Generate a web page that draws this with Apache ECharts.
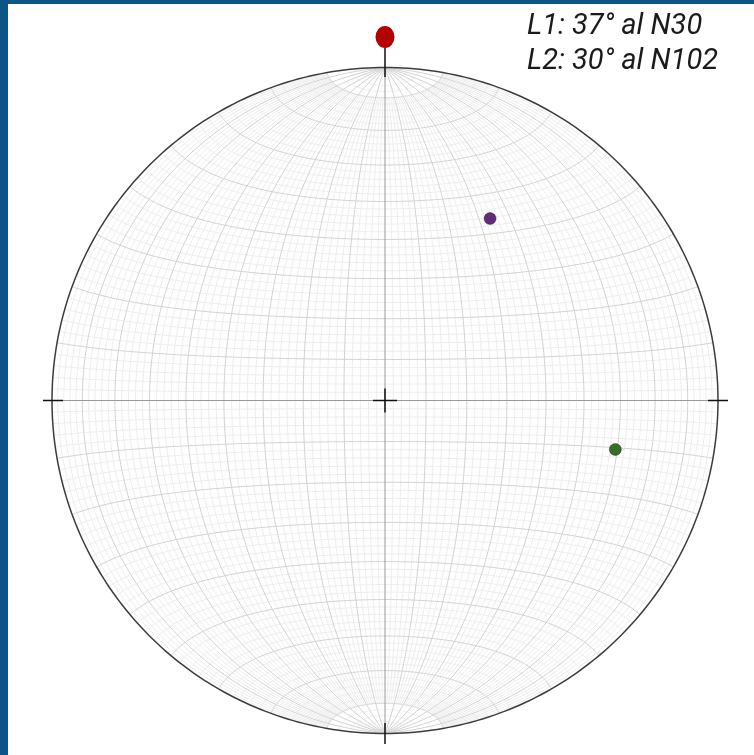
<!DOCTYPE html>
<html>
<head>
<meta charset="utf-8">
<script src="https://cdn.jsdelivr.net/npm/echarts@6/dist/echarts.min.js"></script>
<style>
  html, body { margin: 0; padding: 0; background: #ffffff; }
  #frame { position: absolute; left: 0; top: 0; width: 754px; height: 755px; background: #0c5584; }
  #chart { position: absolute; left: 8px; top: 4px; width: 746px; height: 751px; background: #ffffff; }
</style>
</head>
<body>
<div id="frame"></div>
<div id="chart"></div>
<script>
// Lineations (plunge / trend, degrees), lower-hemisphere equal-area net
var lineNames = ['L1', 'L2'];
var plunges = [37, 30];
var trends = [30, 102];
var lineColors = ['#652a78', '#356f25'];
var legendTexts = ['L1: 37° al N30', 'L2: 30° al N102'];

// Net layout (pixels inside the chart box)
var W = 746, H = 751;
var CX = 377, CY = 396.5, R = 333;

var chart = echarts.init(document.getElementById('chart'), null, { renderer: 'canvas' });

// Equal-area (Schmidt) projection of a net point given longitude/latitude
function netPoint(lonDeg, latDeg) {
  var lon = lonDeg * Math.PI / 180, lat = latDeg * Math.PI / 180;
  var x = Math.cos(lat) * Math.sin(lon);
  var y = Math.sin(lat);
  var z = Math.cos(lat) * Math.cos(lon);
  var k = 1 / Math.sqrt(1 + z);
  return [x * k, y * k];
}

// Lineation plunge/trend to net coordinates
function lineationPoint(plunge, trend) {
  var r = Math.SQRT2 * Math.sin((90 - plunge) / 2 * Math.PI / 180);
  var t = trend * Math.PI / 180;
  return [r * Math.sin(t), r * Math.cos(t)];
}

var minorNet = [], majorNet = [];
var step = 2, a, b;
// great circles (meridians)
for (a = -88; a <= 88; a += step) {
  if (a === 0) continue;
  var major = (a % 10 === 0);
  var lim = major ? 90 : 80;
  var pts = [];
  for (b = -lim; b <= lim; b += 1) pts.push(netPoint(a, b));
  (major ? majorNet : minorNet).push({ coords: pts });
}
// small circles
for (a = -88; a <= 88; a += step) {
  if (a === 0) continue;
  var majorS = (a % 10 === 0);
  var pts2 = [];
  for (b = -90; b <= 90; b += 1) pts2.push(netPoint(b, a));
  (majorS ? majorNet : minorNet).push({ coords: pts2 });
}
var primitive = [];
for (b = 0; b <= 360; b += 1) {
  primitive.push([Math.sin(b * Math.PI / 180), Math.cos(b * Math.PI / 180)]);
}

function px2u(px) { return (px - CX) / R; }
function py2u(py) { return (CY - py) / R; }

var ticks = [
  { coords: [[0, py2u(44)], [0, py2u(73)]] },
  { coords: [[0, py2u(719)], [0, py2u(740)]] },
  { coords: [[px2u(35), 0], [px2u(55), 0]] },
  { coords: [[px2u(700), 0], [px2u(720), 0]] },
  { coords: [[px2u(CX - 12), 0], [px2u(CX + 12), 0]] },
  { coords: [[0, py2u(CY - 12)], [0, py2u(CY + 12)]] }
];
var axesLines = [
  { coords: [[-1, 0], [1, 0]] },
  { coords: [[0, -1], [0, 1]] }
];

var scatterData = lineNames.map(function (n, i) {
  return { name: n, value: lineationPoint(plunges[i], trends[i]), itemStyle: { color: lineColors[i] } };
});

var option = {
  animation: false,
  grid: { left: 0, top: 0, width: W, height: H },
  xAxis: { type: 'value', min: px2u(0), max: px2u(W), show: false },
  yAxis: { type: 'value', min: py2u(H), max: py2u(0), show: false },
  series: [
    { type: 'lines', coordinateSystem: 'cartesian2d', polyline: true, silent: true,
      lineStyle: { color: '#ededed', width: 1, opacity: 1 }, data: minorNet, z: 1 },
    { type: 'lines', coordinateSystem: 'cartesian2d', polyline: true, silent: true,
      lineStyle: { color: '#d2d2d2', width: 1, opacity: 1 }, data: majorNet, z: 2 },
    { type: 'lines', coordinateSystem: 'cartesian2d', polyline: true, silent: true,
      lineStyle: { color: '#9a9a9a', width: 1, opacity: 1 }, data: axesLines, z: 3 },
    { type: 'lines', coordinateSystem: 'cartesian2d', polyline: true, silent: true,
      lineStyle: { color: '#3c3c3c', width: 1.5, opacity: 1 }, data: [{ coords: primitive }], z: 4 },
    { type: 'lines', coordinateSystem: 'cartesian2d', polyline: true, silent: true,
      lineStyle: { color: '#111111', width: 1.5, opacity: 1 }, data: ticks, z: 5 },
    { type: 'scatter', silent: true, z: 6,
      symbol: 'circle', symbolSize: [19, 22],
      itemStyle: { color: '#b30000', opacity: 1 },
      data: [[0, py2u(33)]] },
    { type: 'scatter', silent: true, z: 7,
      symbol: 'circle', symbolSize: 12,
      itemStyle: { opacity: 1, borderColor: 'rgba(0,0,0,0.35)', borderWidth: 1 },
      data: scatterData }
  ],
  graphic: legendTexts.map(function (t, i) {
    return {
      type: 'text', left: 519, top: 8 + i * 35, z: 10,
      style: { text: t, fill: '#1a1a1a', font: 'italic 29px Roboto' }
    };
  })
};
chart.setOption(option);
</script>
</body>
</html>
